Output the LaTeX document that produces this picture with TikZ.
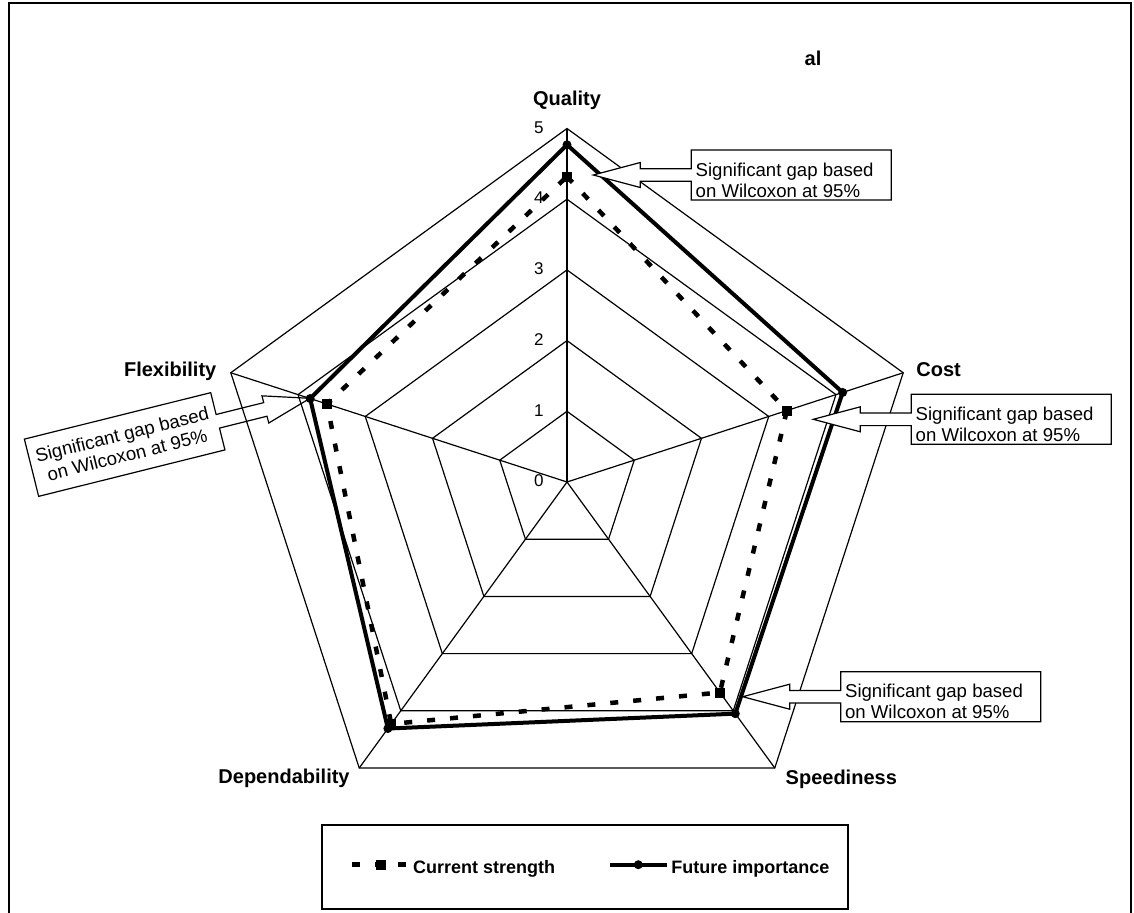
\documentclass[tikz,border=0pt]{standalone}
\usepackage{fontspec}
\setmainfont{Liberation Sans}
\usepackage{tikz}
\usetikzlibrary{calc,positioning}

\begin{document}
\begin{tikzpicture}[x=0.5pt,y=0.5pt,
  radar/.style={line width=0.6pt},
  nowline/.style={line width=2.25pt,dash pattern=on 4pt off 7.5pt},
  futline/.style={line width=2pt,line join=round},
  fdot/.style={circle,fill=black,inner sep=0pt,minimum size=4.5pt},
  csq/.style={rectangle,fill=black,inner sep=0pt,minimum size=5pt},
  axislab/.style={font=\fontsize{10pt}{12pt}\selectfont\bfseries,inner sep=0pt},
  levlab/.style={font=\fontsize{8.5pt}{10pt}\selectfont,inner sep=0pt,anchor=east},
  gapshape/.style={draw,line width=0.6pt,fill=white},
  gaptext/.style={font=\fontsize{9.3pt}{10.5pt}\selectfont,inner sep=0pt,align=left,anchor=west},
  legtext/.style={font=\fontsize{9pt}{11pt}\selectfont\bfseries,inner sep=0pt,anchor=west}]
\useasboundingbox (-567,-430) rectangle (567,482);
\draw[line width=0.6pt] (-558,-440) -- (-558,479) -- (564,479) -- (564,-440);

\begin{scope}[x=35.35pt,y=35.35pt]
\draw[radar] (90:1) -- (18:1) -- (-54:1) -- (-126:1) -- (162:1) -- cycle;
\draw[radar] (90:2) -- (18:2) -- (-54:2) -- (-126:2) -- (162:2) -- cycle;
\draw[radar] (90:3) -- (18:3) -- (-54:3) -- (-126:3) -- (162:3) -- cycle;
\draw[radar] (90:4) -- (18:4) -- (-54:4) -- (-126:4) -- (162:4) -- cycle;
\draw[radar] (90:5) -- (18:5) -- (-54:5) -- (-126:5) -- (162:5) -- cycle;
\draw[radar] (0,0) -- (90:5);
\draw[radar] (0,0) -- (18:5);
\draw[radar] (0,0) -- (-54:5);
\draw[radar] (0,0) -- (-126:5);
\draw[radar] (0,0) -- (162:5);

\node (lv0) at (-0.325,0.015) [levlab] {0};
\node (lv1) at (-0.325,1.015) [levlab] {1};
\node (lv2) at (-0.325,2.015) [levlab] {2};
\node (lv3) at (-0.325,3.015) [levlab] {3};
\node (lv4) at (-0.325,4.015) [levlab] {4};
\node (lv5) at (-0.325,5.015) [levlab] {5};

\node (c1) at (90:4.32) [csq] {};
\node (c2) at (18:3.27) [csq] {};
\node (c3) at (-54:3.68) [csq] {};
\node (c4) at (-126:4.23) [csq] {};
\node (c5) at (162:3.57) [csq] {};
\draw[nowline] (c1.center) -- (c2.center) -- (c3.center) -- (c4.center) -- (c5.center) -- cycle;

\node (f1) at (90:4.77) [fdot] {};
\node (f2) at (18:4.10) [fdot] {};
\node (f3) at (-54:4.05) [fdot] {};
\node (f4) at (-126:4.31) [fdot] {};
\node (f5) at (162:3.82) [fdot] {};
\draw[futline] (f1.center) -- (f2.center) -- (f3.center) -- (f4.center) -- (f5.center) -- cycle;
\end{scope}

\node (qual) at (0,377) [axislab,anchor=base] {Quality};
\node (cost) at (349,106) [axislab,anchor=base west] {Cost};
\node (speed) at (274.3,-302) [axislab,anchor=base] {Speediness};
\node (depend) at (-217,-301.3) [axislab,anchor=base east] {Dependability};
\node (flex) at (-350.3,105.3) [axislab,anchor=base east] {Flexibility};
\node (al) at (246,417) [axislab,anchor=base] {al};

% gap callouts
\begin{scope}[shift={(26.3,307)}]
\draw[gapshape] (0,0) -- (47,12.5) -- (47,6.3) -- (98,6.3) -- (98,25) -- (298,25) -- (298,-25) -- (98,-25) -- (98,-6.3) -- (47,-6.3) -- (47,-12.5) -- cycle;
\node (qgap) at (102,-5) [gaptext] {Significant gap based\\on Wilcoxon at 95\%};
\end{scope}
\begin{scope}[shift={(246.3,62.7)}]
\draw[gapshape] (0,0) -- (47,12.5) -- (47,6.3) -- (98,6.3) -- (98,25) -- (298,25) -- (298,-25) -- (98,-25) -- (98,-6.3) -- (47,-6.3) -- (47,-12.5) -- cycle;
\node (cgap) at (102,-5) [gaptext] {Significant gap based\\on Wilcoxon at 95\%};
\end{scope}
\begin{scope}[shift={(175.7,-214.7)}]
\draw[gapshape] (0,0) -- (47,12.5) -- (47,6.3) -- (98,6.3) -- (98,25) -- (298,25) -- (298,-25) -- (98,-25) -- (98,-6.3) -- (47,-6.3) -- (47,-12.5) -- cycle;
\node (sgap) at (102,-5) [gaptext] {Significant gap based\\on Wilcoxon at 95\%};
\end{scope}
\begin{scope}[shift={(-257,83.7)},rotate=14]
\draw[gapshape,fill=none] (0,0) -- (-46,14) -- (-46,7) -- (-95,7) -- (-95,29.5) -- (-287,29.5) -- (-287,-29.5) -- (-95,-29.5) -- (-95,-7) -- (-46,-7) -- (-46,-14) -- cycle;
\node (fgap) at (-191,0) [gaptext,anchor=center,align=center,rotate=14] {Significant gap based\\on Wilcoxon at 95\%};
\end{scope}

% legend
\node (legend) at (18,-385) [draw,line width=0.6pt,minimum width=263pt,minimum height=42pt] {};
\coordinate (cs1) at (-215,-382.7);
\coordinate (cs2) at (-160,-382.7);
\draw[nowline] (cs1) -- (cs2);
\node (csmark) at (-186,-382.7) [csq] {};
\node (cslab) at (-154.3,-387) [legtext] {Current strength};
\coordinate (fi1) at (43,-382.7);
\coordinate (fi2) at (99.7,-382.7);
\draw[futline] (fi1) -- (fi2);
\node (fimark) at (71.3,-382.7) [fdot] {};
\node (filab) at (104,-387) [legtext] {Future importance};
\end{tikzpicture}
\end{document}
